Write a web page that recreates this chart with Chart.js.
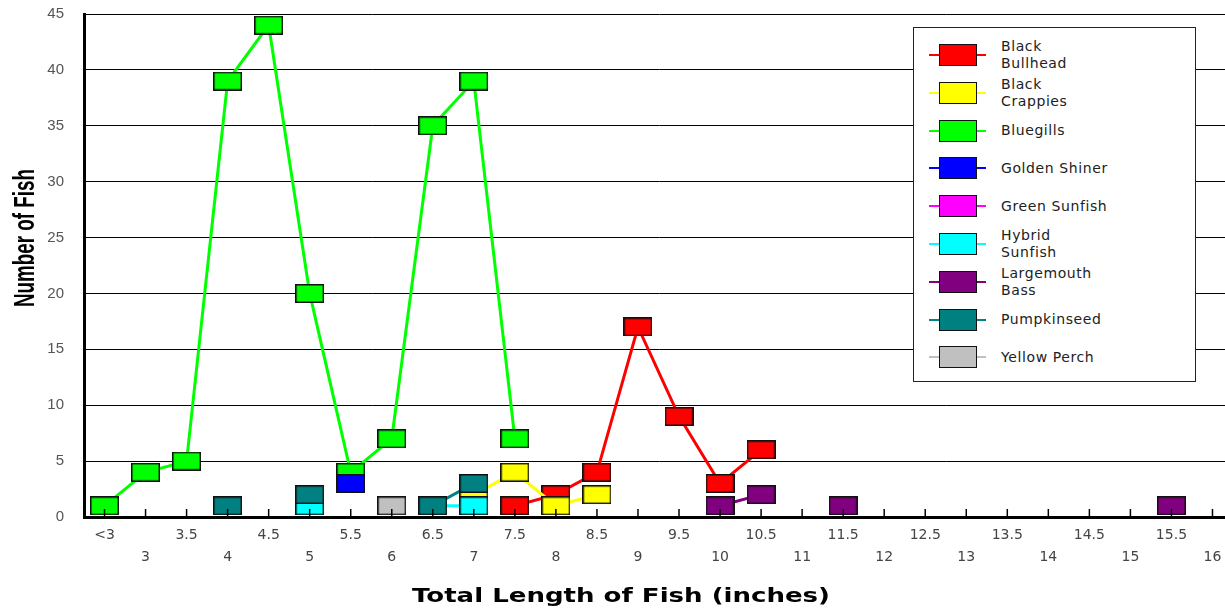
<!DOCTYPE html>
<html>
<head>
<meta charset="utf-8">
<script src="https://cdn.jsdelivr.net/npm/chart.js@4.4.1/dist/chart.umd.min.js"></script>
<style>
    body { margin: 0; background: #fff; }
    #wrap { position: relative; width: 1225px; height: 610px; overflow: hidden; }
    #legend {
        position: absolute; left: 913px; top: 27px; width: 281px; height: 353px;
        border: 1px solid #222; background: #fff; box-sizing: content-box;
        font-family: 'DejaVu Sans', sans-serif; font-size: 14px; letter-spacing: 0.6px; color: #222;
    }
    #legend ul { list-style: none; margin: 0; padding: 8px 0 0 0; }
    #legend li { position: relative; height: 37.8px; }
    #legend .ln { position: absolute; left: 15px; top: 18px; width: 57px; height: 2px; }
    #legend .box { position: absolute; left: 25px; top: 8px; width: 36px; height: 20px; border: 1px solid #111; }
    #legend .txt { position: absolute; left: 87px; top: 50%; transform: translateY(-50%); max-width: 109px; line-height: 17px; }
</style>
</head>
<body>
<div id="wrap">
    <canvas id="graficoPeces" width="1240" height="610"></canvas>
    <div id="legend"></div>
</div>
<script>
// categorias de longitud (pulgadas)
var longitudes = ['<3', '3', '3.5', '4', '4.5', '5', '5.5', '6', '6.5', '7', '7.5', '8', '8.5', '9',
    '9.5', '10', '10.5', '11', '11.5', '12', '12.5', '13', '13.5', '14', '14.5', '15', '15.5', '16'];

var especies = ['Black Bullhead', 'Black Crappies', 'Bluegills', 'Golden Shiner', 'Green Sunfish',
    'Hybrid Sunfish', 'Largemouth Bass', 'Pumpkinseed', 'Yellow Perch'];

var colores = ['#ff0000', '#ffff00', '#00ff00', '#0000ff', '#ff00ff', '#00ffff', '#800080', '#008080', '#c0c0c0'];

var blackBullhead = [null, null, null, null, null, null, null, null, null, null, 1, 2, 4, 17, 9, 3, 6, null, null, null, null, null, null, null, null, null, null, null];
var blackCrappies = [null, null, null, null, null, null, null, null, null, 2, 4, 1, 2, null, null, null, null, null, null, null, null, null, null, null, null, null, null, null];
var bluegills = [1, 4, 5, 39, 44, 20, 4, 7, 35, 39, 7, null, null, null, null, null, null, null, null, null, null, null, null, null, null, null, null, null];
var goldenShiner = [null, null, null, null, null, null, 3, null, null, null, null, null, null, null, null, null, null, null, null, null, null, null, null, null, null, null, null, null];
var greenSunfish = [null, null, null, null, null, null, null, null, null, null, null, null, null, null, null, null, null, null, null, null, null, null, null, null, null, null, null, null];
var hybridSunfish = [null, null, null, null, null, 1, null, null, 1, 1, null, null, null, null, null, null, null, null, null, null, null, null, null, null, null, null, null, null];
var largemouthBass = [null, null, null, null, null, null, null, null, null, null, null, null, null, null, null, 1, 2, null, 1, null, null, null, null, null, null, null, 1, null];
var pumpkinseed = [null, null, null, 1, null, 2, null, null, 1, 3, null, null, null, null, null, null, null, null, null, null, null, null, null, null, null, null, null, null];
var yellowPerch = [null, null, null, null, null, null, null, 1, null, null, null, null, null, null, null, null, null, null, null, null, null, null, null, null, null, null, null, null];

var series = [blackBullhead, blackCrappies, bluegills, goldenShiner, greenSunfish,
    hybridSunfish, largemouthBass, pumpkinseed, yellowPerch];

var ticksY = [0, 5, 10, 15, 20, 25, 30, 35, 40, 45];

var tituloY = 'Number of Fish';
var tituloX = 'Total Length of Fish (inches)';

function marcador(color) {
    var c = document.createElement('canvas');
    c.width = 29;
    c.height = 19;
    var ctx = c.getContext('2d');
    ctx.fillStyle = color;
    ctx.fillRect(0, 0, 29, 19);
    ctx.strokeStyle = '#111';
    ctx.lineWidth = 1.5;
    ctx.strokeRect(0.75, 0.75, 27.5, 17.5);
    return c;
}

var datasets = [];
for (var i = 0; i < especies.length; i++) {
    var img = marcador(colores[i]);
    datasets.push({
        label: especies[i],
        data: series[i],
        borderColor: colores[i],
        backgroundColor: colores[i],
        borderWidth: 3,
        pointStyle: img,
        pointHoverStyle: img,
        spanGaps: false,
        tension: 0,
        order: especies.length - i
    });
}

// leyenda en html
const leyendaHtml = {
    id: 'leyendaHtml',
    afterUpdate(chart) {
        var cont = document.getElementById('legend');
        var html = '<ul>';
        chart.data.datasets.forEach(function (ds) {
            html += '<li><div class="ln" style="background:' + ds.borderColor + '"></div>' +
                '<div class="box" style="background:' + ds.backgroundColor + '"></div>' +
                '<div class="txt">' + ds.label + '</div></li>';
        });
        cont.innerHTML = html + '</ul>';
    }
};

function textoEscalado(ctx, texto, font, x, y, ancho, rot) {
    ctx.save();
    ctx.font = font;
    ctx.fillStyle = '#000';
    ctx.textAlign = 'center';
    ctx.textBaseline = 'middle';
    var w = ctx.measureText(texto).width;
    ctx.translate(x, y);
    if (rot) ctx.rotate(rot);
    ctx.scale(ancho / w, 1);
    ctx.fillText(texto, 0, 0);
    ctx.restore();
}

// marcas del eje x hacia adentro + titulos
const extras = {
    id: 'extras',
    afterDatasetsDraw(chart) {
        var x = chart.scales.x;
        var ctx = chart.ctx;
        var area = chart.chartArea;
        ctx.save();
        ctx.strokeStyle = '#000';
        ctx.lineWidth = 1.5;
        for (var i = 0; i < x.ticks.length; i++) {
            var px = x.getPixelForTick(i);
            ctx.beginPath();
            ctx.moveTo(px, area.bottom - 8);
            ctx.lineTo(px, area.bottom + 2);
            ctx.stroke();
        }
        ctx.restore();

        textoEscalado(ctx, tituloY, 'bold 30px "Liberation Sans", Arial, sans-serif', 26, 238, 138, -Math.PI / 2);
        textoEscalado(ctx, tituloX, 'bold 19px "DejaVu Sans", sans-serif', 621, 597, 418, 0);
    }
};

var controlPeces = document.getElementById('graficoPeces');
var graficoPeces = new Chart(controlPeces, {
    type: 'line',
    data: {
        labels: longitudes,
        datasets: datasets
    },
    plugins: [leyendaHtml, extras],
    options: {
        responsive: false,
        animation: false,
        devicePixelRatio: 1,
        layout: { padding: { top: 14, right: 5, bottom: 0, left: 0 } },
        plugins: {
            legend: { display: false },
            tooltip: { enabled: false }
        },
        scales: {
            x: {
                type: 'category',
                offset: true,
                afterFit: function (s) { s.height = 93; },
                grid: { display: false },
                border: { display: true, color: '#000', width: 3 },
                ticks: {
                    autoSkip: false,
                    maxRotation: 0,
                    minRotation: 0,
                    padding: 0,
                    color: '#444',
                    font: { family: 'DejaVu Sans', size: 14, lineHeight: 1.55 },
                    callback: function (val, idx) {
                        return idx % 2 === 0 ? [longitudes[idx], ''] : ['', longitudes[idx]];
                    }
                },
                title: { display: false }
            },
            y: {
                min: 0,
                max: 45,
                afterFit: function (s) {
                    s.width = 84;
                    s.paddingTop = 0;
                    s.paddingBottom = 0;
                },
                afterBuildTicks: function (s) { s.ticks = ticksY.map(function (v) { return { value: v }; }); },
                grid: { color: '#000', lineWidth: 1, drawTicks: false },
                border: { display: true, color: '#000', width: 3 },
                ticks: {
                    padding: 20,
                    color: '#555',
                    font: { family: 'Liberation Sans', size: 15 }
                },
                title: { display: false }
            }
        }
    }
});
</script>
</body>
</html>
